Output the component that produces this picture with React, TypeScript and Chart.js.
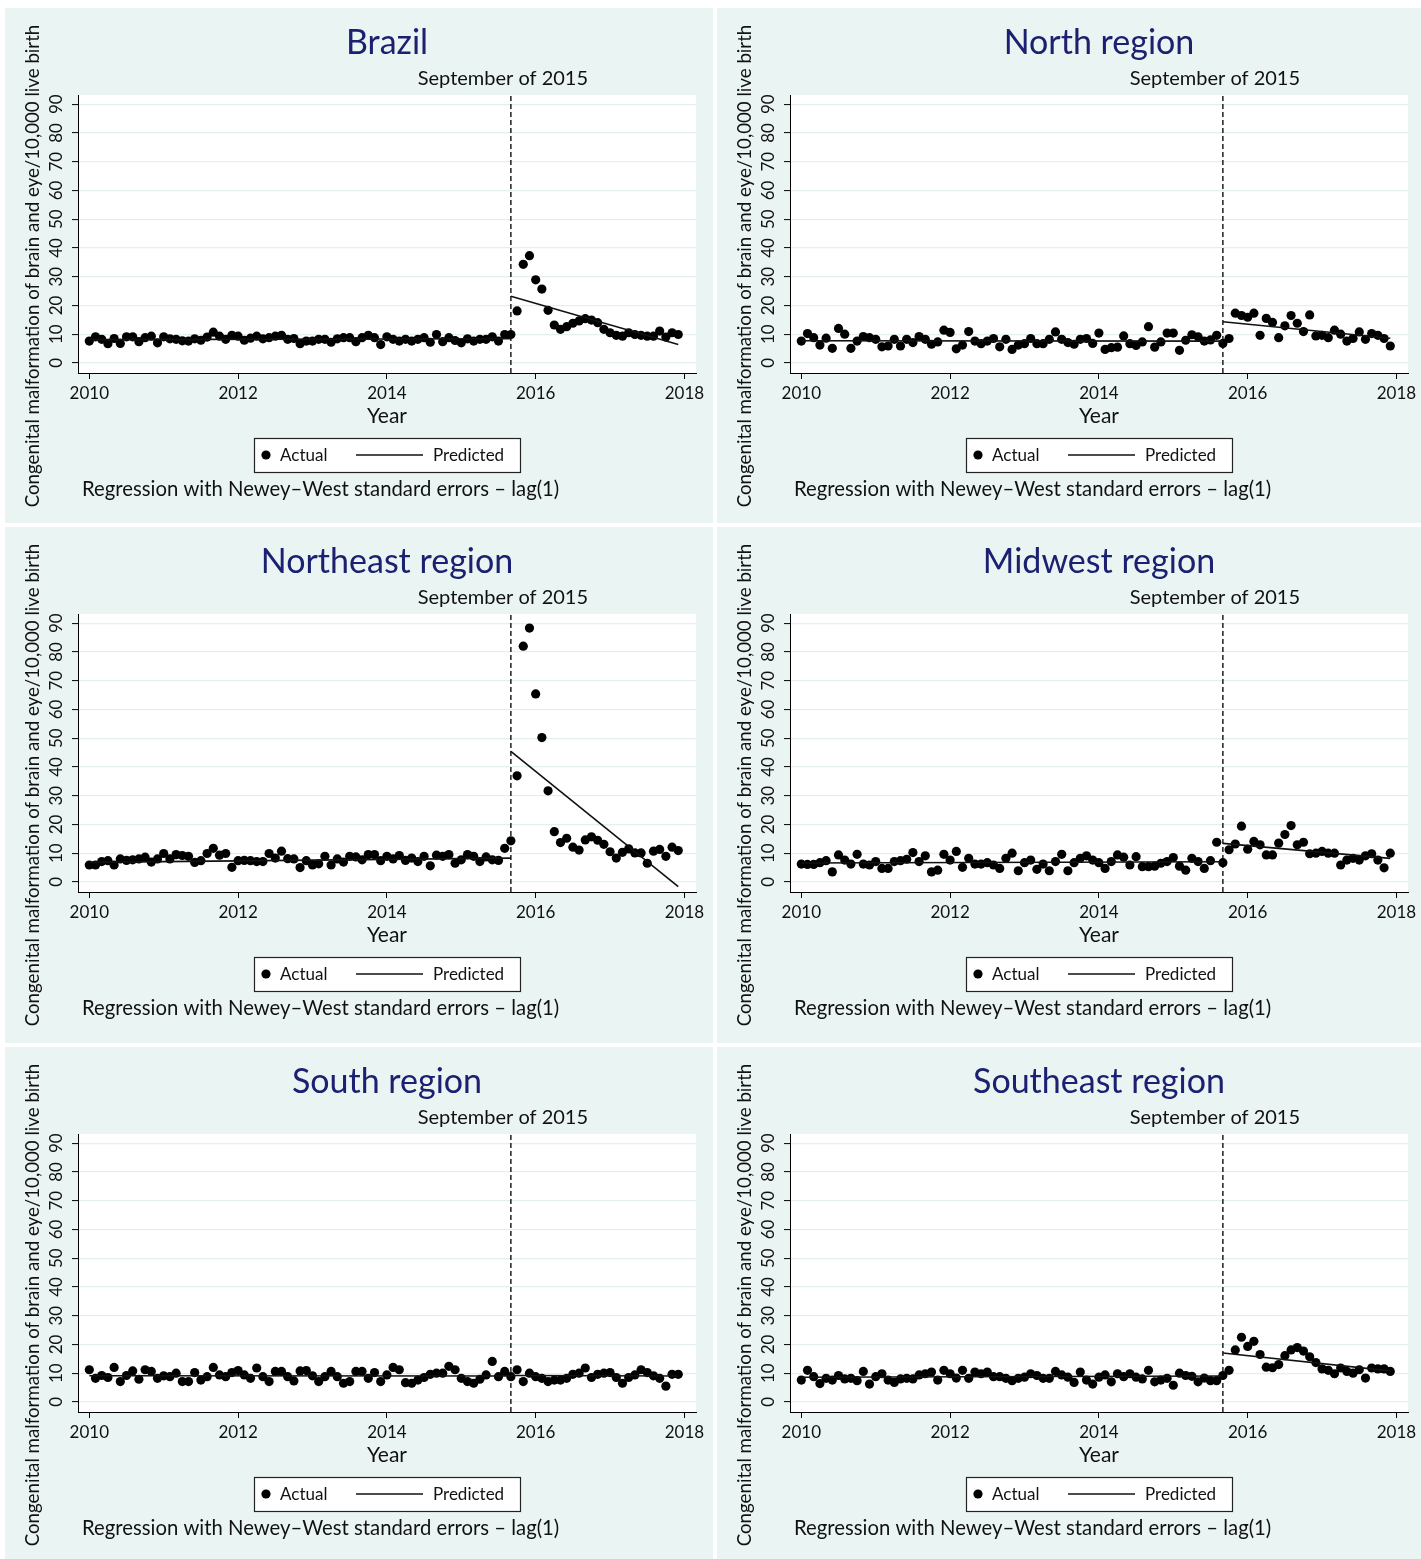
import React, { useEffect, useRef } from 'react';
import { Chart, registerables } from 'chart.js';

Chart.register(...registerables);
Chart.defaults.font.family = 'Lato, "Open Sans", sans-serif';

// ---------- Data ----------
const startYear = 2010; // first month: January 2010, monthly series to December 2017
const interventionX = 2015 + 8 / 12; // September of 2015
const lastX = 2017 + 11 / 12; // December 2017
const xTicks = [2010, 2012, 2014, 2016, 2018];
const yTicks = [0, 10, 20, 30, 40, 50, 60, 70, 80, 90];
const legendLabels = ['Actual', 'Predicted'];
const interventionLabel = 'September of 2015';
const yAxisTitle = 'Congenital malformation of brain and eye/10,000 live birth';
const xAxisTitle = 'Year';
const footNote = 'Regression with Newey\u2013West standard errors \u2013 lag(1)';

const regionNames = ['Brazil', 'North region', 'Northeast region', 'Midwest region', 'South region', 'Southeast region'];

const brazilActual = [
  7.6, 9.1, 8.2, 6.7, 8.5, 6.8, 9.1, 9.1, 7.4, 8.8, 9.3, 7.0,
  9.1, 8.4, 8.2, 7.7, 7.6, 8.4, 7.9, 9.0, 10.7, 9.3, 8.2, 9.6,
  9.3, 7.9, 8.6, 9.3, 8.4, 8.8, 9.3, 9.6, 8.2, 8.5, 6.7, 7.6,
  7.6, 8.2, 8.2, 7.2, 8.4, 8.8, 8.8, 7.4, 8.8, 9.6, 8.8, 6.4,
  9.1, 8.2, 7.6, 8.2, 7.6, 8.2, 8.8, 7.2, 9.9, 7.4, 8.8, 7.8,
  7.0, 8.4, 7.6, 8.2, 8.2, 9.1, 7.6, 9.9, 9.9, 18.1, 34.3, 37.3,
  28.9, 25.7, 18.3, 13.2, 11.7, 12.6, 13.8, 14.6, 15.4, 14.9, 14.0, 11.7,
  10.5, 9.6, 9.3, 10.5, 9.9, 9.6, 9.3, 9.3, 11.1, 9.0, 10.5, 9.9,
];
const northActual = [
  7.6, 10.2, 8.8, 6.2, 8.6, 5.1, 12.0, 10.0, 5.1, 7.6, 9.2, 8.8,
  8.2, 5.6, 5.9, 8.2, 5.9, 8.2, 7.1, 9.2, 8.2, 6.5, 7.3, 11.4,
  10.6, 4.9, 6.2, 10.9, 7.6, 6.7, 7.6, 8.5, 5.6, 8.2, 4.7, 6.2,
  6.7, 8.5, 6.7, 6.7, 8.2, 10.8, 8.2, 7.1, 6.5, 8.2, 8.5, 6.8,
  10.4, 4.7, 5.3, 5.5, 9.4, 6.7, 6.1, 7.3, 12.6, 5.5, 7.3, 10.4,
  10.4, 4.4, 7.9, 9.8, 9.1, 7.6, 8.0, 9.6, 6.8, 8.5, 17.3, 16.5,
  15.9, 17.3, 9.6, 15.5, 14.1, 8.8, 12.9, 16.5, 13.8, 10.9, 16.7, 9.4,
  9.6, 8.8, 11.4, 10.0, 7.6, 8.5, 10.8, 8.2, 10.2, 9.6, 8.5, 5.9,
];
const northeastActual = [
  5.9, 5.9, 7.1, 7.4, 5.9, 8.0, 7.5, 7.7, 8.0, 8.6, 6.9, 8.0,
  9.9, 8.0, 9.5, 9.2, 8.9, 6.8, 7.4, 9.9, 11.7, 9.3, 9.9, 5.1,
  7.4, 7.5, 7.4, 7.1, 7.1, 9.9, 8.3, 10.7, 8.1, 8.0, 5.0, 7.4,
  5.9, 6.3, 8.9, 5.9, 8.0, 6.9, 8.9, 8.7, 7.7, 9.5, 9.5, 7.4,
  8.9, 8.0, 9.2, 7.5, 8.3, 7.1, 8.9, 5.6, 9.3, 8.9, 9.5, 6.5,
  7.7, 9.5, 8.9, 7.1, 8.7, 7.7, 7.5, 11.7, 14.3, 36.9, 82.0, 88.3,
  65.4, 50.2, 31.7, 17.5, 13.7, 15.2, 12.1, 11.1, 14.6, 15.7, 14.5, 13.1,
  10.5, 8.3, 10.3, 11.5, 10.1, 10.1, 6.5, 10.7, 11.3, 8.9, 12.1, 10.9,
];
const midwestActual = [
  6.2, 6.1, 6.1, 6.7, 7.4, 3.5, 9.4, 7.6, 6.2, 9.6, 6.2, 5.9,
  7.1, 4.7, 4.7, 7.1, 7.4, 7.9, 10.2, 7.1, 9.1, 3.5, 4.1, 9.6,
  7.6, 10.6, 5.1, 8.2, 6.2, 6.2, 6.7, 5.9, 4.7, 8.2, 10.0, 3.9,
  6.7, 7.6, 4.4, 6.2, 3.9, 7.1, 9.6, 3.9, 6.7, 8.2, 9.1, 7.6,
  6.7, 4.7, 7.1, 9.4, 8.6, 5.9, 8.8, 5.3, 5.3, 5.5, 6.5, 7.1,
  8.5, 5.5, 4.1, 8.2, 7.1, 4.7, 7.4, 13.8, 6.7, 11.2, 13.2, 19.4,
  11.4, 14.1, 12.9, 9.4, 9.4, 13.5, 16.5, 19.6, 12.9, 13.8, 9.8, 10.0,
  10.6, 10.0, 10.0, 5.9, 7.6, 8.2, 7.6, 9.1, 9.8, 7.6, 4.9, 10.0,
];
const southActual = [
  11.2, 8.2, 9.2, 8.5, 12.0, 7.1, 9.2, 10.8, 7.9, 11.2, 10.6, 8.2,
  9.1, 8.8, 10.0, 7.1, 7.1, 10.2, 7.6, 8.8, 12.0, 9.4, 8.8, 10.2,
  10.9, 9.4, 8.2, 11.8, 8.8, 7.1, 10.6, 10.6, 8.8, 7.3, 10.8, 10.9,
  9.1, 7.1, 8.8, 10.6, 8.8, 6.5, 7.1, 10.6, 10.6, 8.2, 10.2, 7.1,
  9.4, 12.0, 11.2, 6.7, 6.5, 7.6, 8.5, 9.6, 10.0, 10.0, 12.4, 11.2,
  8.2, 7.1, 6.5, 7.9, 9.4, 14.1, 8.8, 10.6, 8.8, 11.2, 7.1, 10.0,
  8.8, 8.2, 7.1, 7.6, 7.6, 8.2, 9.6, 10.0, 11.8, 8.5, 9.6, 10.0,
  10.2, 8.5, 6.5, 8.5, 9.4, 11.2, 10.2, 9.1, 8.2, 5.5, 9.6, 9.6,
];
const southeastActual = [
  7.6, 11.0, 8.8, 6.4, 8.2, 7.6, 9.2, 8.0, 8.2, 7.4, 10.6, 6.2,
  8.8, 9.8, 7.6, 6.8, 8.0, 8.2, 8.0, 9.4, 9.8, 10.4, 7.6, 11.0,
  9.8, 8.3, 11.0, 8.2, 10.4, 9.8, 10.4, 8.8, 8.8, 8.2, 7.4, 8.2,
  8.6, 9.8, 9.2, 8.2, 8.2, 10.6, 9.4, 8.6, 6.8, 10.4, 7.6, 6.2,
  8.6, 9.4, 7.0, 9.8, 8.8, 9.8, 8.6, 8.0, 11.0, 7.0, 7.6, 8.2,
  5.8, 10.0, 9.2, 8.9, 7.0, 8.3, 7.4, 7.4, 9.2, 11.0, 18.1, 22.5,
  19.3, 21.1, 16.5, 12.1, 11.9, 13.0, 16.1, 18.1, 18.9, 17.7, 15.7, 13.7,
  11.5, 11.0, 9.8, 11.8, 10.6, 10.0, 11.2, 8.3, 11.8, 11.5, 11.5, 10.6,
];

// Predicted segments: [value at start, value at end]
const brazilPredPre = [8.1, 8.4];
const brazilPredPost = [23.2, 6.4];
const northPredPre = [7.7, 7.6];
const northPredPost = [14.3, 8.6];
const northeastPredPre = [6.8, 8.3];
const northeastPredPost = [45.4, -1.6];
const midwestPredPre = [6.6, 7.0];
const midwestPredPost = [13.4, 8.2];
const southPredPre = [9.1, 9.0];
const southPredPost = [9.2, 9.0];
const southeastPredPre = [8.6, 9.0];
const southeastPredPost = [17.0, 10.8];

// ---------- Style / layout ----------
const PANEL_BG = '#eaf5f3';
const GRID_COLOR = '#e4f0ef';
const TITLE_COLOR = '#1b2170';
const TEXT_COLOR = '#111111';
const FONT = 'Lato, "Open Sans", sans-serif';

const PLOT_LEFT = 73;
const PLOT_RIGHT = 691;
const PLOT_TOP = 87;
const PLOT_BOTTOM = 365;
const X_AXIS_H = 45;
const X_MIN = 2009.848;
const X_MAX = 2018.155;
const Y_MIN = -3.5;
const Y_MAX = 93.2;

type PanelSpec = {
  title: string;
  actual: number[];
  pre: number[];
  post: number[];
  left: number;
  top: number;
  width: number;
  height: number;
};

const panels: PanelSpec[] = [
  { title: regionNames[0], actual: brazilActual, pre: brazilPredPre, post: brazilPredPost, left: 5, top: 8, width: 708, height: 515 },
  { title: regionNames[1], actual: northActual, pre: northPredPre, post: northPredPost, left: 717, top: 8, width: 704, height: 515 },
  { title: regionNames[2], actual: northeastActual, pre: northeastPredPre, post: northeastPredPost, left: 5, top: 527, width: 708, height: 516 },
  { title: regionNames[3], actual: midwestActual, pre: midwestPredPre, post: midwestPredPost, left: 717, top: 527, width: 704, height: 516 },
  { title: regionNames[4], actual: southActual, pre: southPredPre, post: southPredPost, left: 5, top: 1047, width: 708, height: 512 },
  { title: regionNames[5], actual: southeastActual, pre: southeastPredPre, post: southeastPredPost, left: 717, top: 1047, width: 704, height: 512 },
];

function Panel({ spec }: { spec: PanelSpec }) {
  const ref = useRef<HTMLCanvasElement>(null);
  useEffect(() => {
    const canvas = ref.current;
    if (!canvas) return;
    const decor = {
      id: 'decor',
      beforeDraw(chart: any) {
        const { ctx, chartArea } = chart;
        ctx.save();
        ctx.fillStyle = PANEL_BG;
        ctx.fillRect(0, 0, chart.width, chart.height);
        ctx.fillStyle = '#ffffff';
        ctx.fillRect(chartArea.left, chartArea.top, chartArea.right - chartArea.left, chartArea.bottom - chartArea.top);
        ctx.restore();
      },
      afterDraw(chart: any) {
        const { ctx } = chart;
        const xs = chart.scales.x;
        ctx.save();
        ctx.textBaseline = 'middle';
        // title
        ctx.fillStyle = TITLE_COLOR;
        ctx.textAlign = 'center';
        ctx.font = `34px ${FONT}`;
        ctx.fillText(spec.title, 382, 35);
        // intervention label
        ctx.fillStyle = TEXT_COLOR;
        ctx.font = `20px ${FONT}`;
        ctx.fillText(interventionLabel, xs.getPixelForValue(interventionX) - 8, 71);
        // x title
        ctx.font = `21px ${FONT}`;
        ctx.fillText(xAxisTitle, 382, 408);
        // y title
        ctx.save();
        ctx.translate(28, 258);
        ctx.rotate(-Math.PI / 2);
        ctx.font = `18.7px ${FONT}`;
        ctx.fillText(yAxisTitle, 0, 0);
        ctx.restore();
        // legend
        ctx.fillStyle = '#ffffff';
        ctx.fillRect(249.5, 430.5, 266, 34);
        ctx.strokeStyle = '#222';
        ctx.lineWidth = 1.2;
        ctx.strokeRect(249.5, 430.5, 266, 34);
        ctx.fillStyle = '#000';
        ctx.beginPath();
        ctx.arc(261, 447, 4.6, 0, Math.PI * 2);
        ctx.fill();
        ctx.fillStyle = TEXT_COLOR;
        ctx.textAlign = 'left';
        ctx.font = `17px ${FONT}`;
        ctx.fillText(legendLabels[0], 275, 448);
        ctx.beginPath();
        ctx.moveTo(351, 447);
        ctx.lineTo(418, 447);
        ctx.strokeStyle = '#111';
        ctx.lineWidth = 1.6;
        ctx.stroke();
        ctx.fillText(legendLabels[1], 428, 448);
        // footnote
        ctx.font = `20.3px ${FONT}`;
        ctx.fillText(footNote, 77, 481);
        ctx.restore();
      },
    };

    const actualPoints = spec.actual.map((v, i) => ({ x: startYear + i / 12, y: v }));
    const chart = new Chart(canvas, {
      type: 'scatter',
      data: {
        datasets: [
          {
            label: 'Predicted (pre)',
            data: [{ x: startYear, y: spec.pre[0] }, { x: interventionX, y: spec.pre[1] }],
            showLine: true,
            borderColor: '#111',
            borderWidth: 1.6,
            pointRadius: 0,
          },
          {
            label: 'Predicted (post)',
            data: [{ x: interventionX, y: spec.post[0] }, { x: lastX, y: spec.post[1] }],
            showLine: true,
            borderColor: '#111',
            borderWidth: 1.6,
            pointRadius: 0,
          },
          {
            label: 'Actual',
            data: actualPoints,
            pointRadius: 4.6,
            pointBackgroundColor: '#000',
            pointBorderWidth: 0,
            borderColor: '#000',
          },
          {
            label: 'Intervention',
            data: [{ x: interventionX, y: Y_MIN }, { x: interventionX, y: Y_MAX }],
            showLine: true,
            borderColor: '#111',
            borderWidth: 1.4,
            borderDash: [5, 3],
            pointRadius: 0,
          },
        ],
      },
      options: {
        responsive: false,
        animation: false,
        devicePixelRatio: 1,
        layout: {
          padding: {
            left: 0,
            top: PLOT_TOP,
            right: spec.width - PLOT_RIGHT,
            bottom: spec.height - PLOT_BOTTOM - X_AXIS_H,
          },
        },
        plugins: {
          legend: { display: false },
          tooltip: { enabled: false },
          title: { display: false },
        },
        scales: {
          x: {
            type: 'linear',
            min: X_MIN,
            max: X_MAX,
            afterBuildTicks: (scale: any) => {
              scale.ticks = xTicks.map((v) => ({ value: v }));
            },
            afterFit: (scale: any) => {
              scale.height = X_AXIS_H;
            },
            grid: {
              drawOnChartArea: false,
              drawTicks: true,
              tickLength: 6,
              tickColor: '#000',
              tickWidth: 1,
            },
            border: { display: true, color: '#000', width: 1 },
            ticks: {
              padding: 4,
              color: TEXT_COLOR,
              font: { size: 17, family: FONT },
              maxRotation: 0,
              minRotation: 0,
              callback: (v: any) => String(v),
            },
          },
          y: {
            type: 'linear',
            min: Y_MIN,
            max: Y_MAX,
            afterBuildTicks: (scale: any) => {
              scale.ticks = yTicks.map((v) => ({ value: v }));
            },
            afterFit: (scale: any) => {
              scale.width = PLOT_LEFT;
            },
            grid: {
              drawOnChartArea: true,
              color: GRID_COLOR,
              lineWidth: 1.2,
              drawTicks: true,
              tickLength: 6,
              tickColor: '#000',
              tickWidth: 1,
            },
            border: { display: true, color: '#000', width: 1 },
            ticks: {
              padding: 6,
              color: TEXT_COLOR,
              font: { size: 17, family: FONT },
              minRotation: 90,
              maxRotation: 90,
              crossAlign: 'center',
              callback: (v: any) => String(v),
            },
          },
        },
      },
      plugins: [decor],
    } as any);
    return () => chart.destroy();
  }, [spec]);

  return (
    <div style={{ position: 'absolute', left: spec.left, top: spec.top, width: spec.width, height: spec.height }}>
      <canvas ref={ref} width={spec.width} height={spec.height} style={{ display: 'block', width: spec.width, height: spec.height }} />
    </div>
  );
}

export default function App() {
  return (
    <div style={{ position: 'absolute', left: 0, top: 0, width: 1421, height: 1559, background: '#ffffff', overflow: 'hidden' }}>
      {panels.map((p) => (
        <Panel key={p.title} spec={p} />
      ))}
    </div>
  );
}
